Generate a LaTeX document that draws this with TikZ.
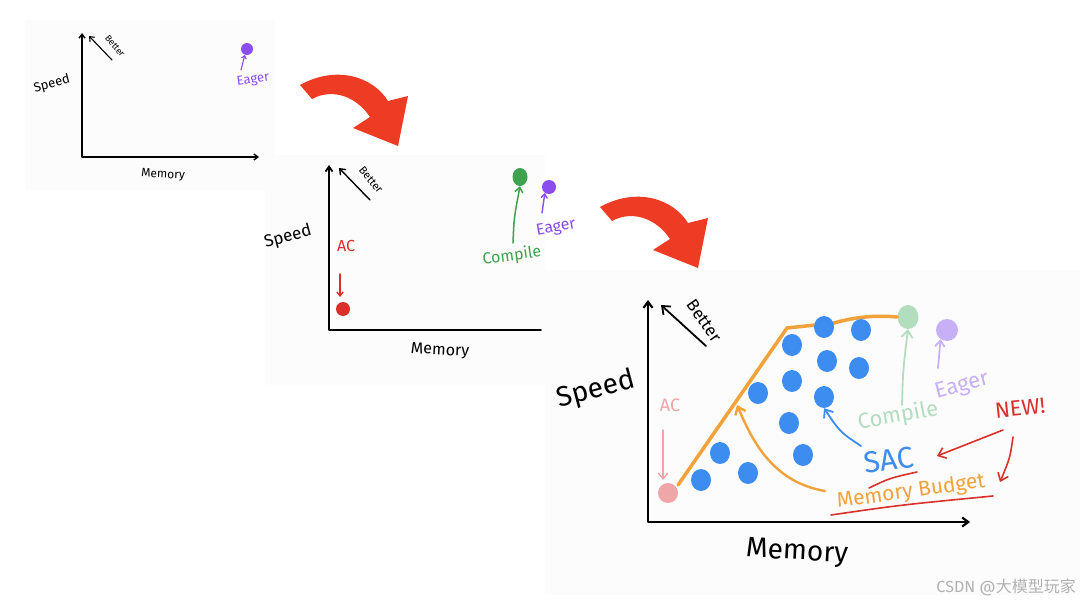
\documentclass[tikz,border=0pt]{standalone}
\usepackage{fontspec}
\setmainfont{Fira Sans}
\newfontfamily\cjkfont{Noto Sans CJK SC}
\usetikzlibrary{arrows.meta,shapes.geometric}
\definecolor{cPurple}{HTML}{8B4CF0}
\definecolor{cRed}{HTML}{D9302A}
\definecolor{cGreen}{HTML}{3FA24E}
\definecolor{cPink}{HTML}{EEA6A6}
\definecolor{cPaleGreen}{HTML}{B3DEBD}
\definecolor{cPalePurple}{HTML}{C8B0F6}
\definecolor{cBlue}{HTML}{3D8DF0}
\definecolor{cOrange}{HTML}{F2A23A}
\definecolor{cBigRed}{HTML}{EE3B24}
\definecolor{cPanel}{HTML}{FCFCFC}
\begin{document}
\begin{tikzpicture}[x=1pt,y=-1pt,
  lbl/.style={inner sep=0pt, font=\fontsize{#1}{#1}\selectfont},
  lbl/.default=12,
  dot/.style={circle, inner sep=0pt, minimum size=#1},
  dot/.default=12,
  axis/.style={line width=#1, black, line cap=round, line join=round},
  axis/.default=1.4,
  tip/.style={-{Straight Barb[length=#1, width=1.6*#1]}},
  tip/.default=4pt,
  bigarrow/.style={fill=cBigRed, draw=none}
]
\useasboundingbox (0,0) rectangle (1080,605);
\fill[white] (0,0) rectangle (1080,605);
% faint panel backgrounds
\fill[cPanel] (25,20) rectangle (275,190);
\fill[cPanel] (265,155) rectangle (545,385);
\fill[cPanel] (545,270) rectangle (1080,595);

% ================= Panel 1 =================
\coordinate (o1) at (82,157);
\coordinate (y1) at (82,33);
\coordinate (x1) at (259,157);
\draw[axis, {Straight Barb[length=4pt,width=6pt]}-{Straight Barb[length=4pt,width=6pt]}] (y1) -- (o1) -- (x1);
\coordinate (b1s) at (112,60);
\coordinate (b1e) at (89,36);
\draw[axis=1.1, tip=4pt] (b1s) -- (b1e);
\node[lbl=9, rotate=-50] (bet1) at (115,46) {Better};
\node[lbl=13, rotate=15] (sp1) at (52,84) {Speed};
\node[lbl=12, rotate=-3] (mem1) at (163,175) {Memory};
\node[dot=12, fill=cPurple] (e1) at (247,49) {};
\node[lbl=13, text=cPurple, rotate=8] (eag1) at (253,80) {Eager};
\coordinate (ea1) at (241,70);
\draw[axis=1.1, draw=cPurple, tip=3pt] (ea1) -- (e1.250);

% big arrow 1
\fill[bigarrow] (300,85) .. controls (338,64) and (374,78) .. (388,101)
  -- (408,96) -- (398,146) -- (353,128) -- (370,117)
  .. controls (356,96) and (332,88) .. (312,99) -- cycle;

% ================= Panel 2 =================
\coordinate (o2) at (329,330);
\coordinate (y2) at (329,165);
\coordinate (x2) at (541,330);
\draw[axis=1.8, {Straight Barb[length=5pt,width=7pt]}-] (y2) -- (o2) -- (x2);
\coordinate (b2s) at (370,200);
\coordinate (b2e) at (339,168);
\draw[axis=1.4, tip=5pt] (b2s) -- (b2e);
\node[lbl=11, rotate=-50] (bet2) at (371,180) {Better};
\node[lbl=17, rotate=15] (sp2) at (288,237) {Speed};
\node[lbl=16, rotate=-3] (mem2) at (440,351) {Memory};
\node[lbl=16, text=cRed] (ac2) at (346,246) {AC};
\node[dot=14, fill=cRed] (r2) at (343,309) {};
\coordinate (ac2a) at (340,274);
\coordinate (ac2b) at (340,297);
\draw[axis=1.4, draw=cRed, tip=4pt] (ac2a) -- (ac2b);
\node[ellipse, inner sep=0pt, minimum width=15pt, minimum height=18pt, fill=cGreen] (g2) at (520,177) {};
\node[lbl=16, text=cGreen, rotate=8] (cmp2) at (512,256) {Compile};
\coordinate (cmp2a) at (513,243);
\draw[axis=1.5, draw=cGreen, tip=5pt] (cmp2a) .. controls (514,218) .. (g2.south);
\node[dot=14, fill=cPurple] (e2) at (549,187) {};
\node[lbl=16, text=cPurple, rotate=10] (eag2) at (556,228) {Eager};
\coordinate (ea2) at (542,213);
\draw[axis=1.4, draw=cPurple, tip=4pt] (ea2) -- (e2.235);

% big arrow 2
\begin{scope}[shift={(300,122)}]
\fill[bigarrow] (300,85) .. controls (338,64) and (374,78) .. (388,101)
  -- (408,96) -- (398,146) -- (353,128) -- (370,117)
  .. controls (356,96) and (332,88) .. (312,99) -- cycle;
\end{scope}

% ================= Panel 3 =================
\coordinate (o3) at (648,522);
\coordinate (y3) at (648,300);
\coordinate (x3) at (970,522);
\draw[axis=2.2, {Straight Barb[length=6pt,width=9pt]}-{Straight Barb[length=6pt,width=9pt]}] (y3) -- (o3) -- (x3);
\coordinate (b3s) at (706,346);
\coordinate (b3e) at (661,305);
\draw[axis=1.8, tip=7pt] (b3s) -- (b3e);
\node[lbl=17, rotate=-55] (bet3) at (704,321) {Better};
\node[lbl=28, rotate=15] (sp3) at (596,390) {Speed};
\node[lbl=28, rotate=-3] (mem3) at (797,553) {Memory};
\node[lbl=18, text=cPink] (ac3) at (670,405) {AC};
\node[dot=20, fill=cPink] (p3) at (668,493) {};
\coordinate (ac3a) at (663,430);
\coordinate (ac3b) at (663,480);
\draw[axis=1.4, draw=cPink, tip=6pt] (ac3a) -- (ac3b);

% frontier line
\node[ellipse, inner sep=0pt, minimum width=21pt, minimum height=24pt, fill=cPaleGreen] (g3) at (908,317) {};
\node[dot=22, fill=cPalePurple] (e3) at (947,330) {};
\coordinate (f1) at (678,485);
\coordinate (f2) at (787,328);
\coordinate (f3) at (834,323);
\draw[line width=3.5pt, cOrange, line cap=round, line join=round]
  (f1) -- (f2) -- (f3) .. controls (855,317) and (875,315) .. (g3.west);

% blue dots
\foreach \i/\px/\py in {1/701/480, 2/720/453, 3/748/473, 4/758/393, 5/792/345,
  6/792/381, 7/789/423, 8/803/455, 9/824/327, 10/827/361, 11/824/397, 12/861/330, 13/859/368}
  \node[ellipse, inner sep=0pt, minimum width=20pt, minimum height=22pt, fill=cBlue] (bd\i) at (\px,\py) {};

\node[lbl=22, text=cPalePurple, rotate=15] (eag3) at (962,386) {Eager};
\coordinate (ea3) at (938,368);
\draw[axis=1.8, draw=cPalePurple, tip=6pt] (ea3) -- (e3.235);
\node[lbl=22, text=cPaleGreen, rotate=10] (cmp3) at (898,416) {Compile};
\coordinate (cmp3a) at (902,405);
\draw[axis=1.8, draw=cPaleGreen, tip=7pt] (cmp3a) .. controls (903,370) .. (g3.south);

\node[lbl=30, text=cBlue, rotate=8] (sac) at (889,460) {SAC};
\coordinate (sacA) at (861,446);
\draw[axis=1.8, draw=cBlue, tip=7pt] (sacA) .. controls (840,432) .. (bd11.south);
\draw[axis=1.6, draw=cRed] (869,488) .. controls (890,478) .. (917,472);

\node[lbl=22, text=cRed, rotate=6] (new) at (1020,408) {NEW!};
\coordinate (n1) at (1003,430);
\coordinate (n1e) at (937,456);
\coordinate (n2) at (1013,437);
\coordinate (n2e) at (1000,482);
\draw[axis=1.6, draw=cRed, tip=7pt] (n1) -- (n1e);
\draw[axis=1.6, draw=cRed, tip=7pt] (n2) .. controls (1010,458) .. (n2e);

\node[lbl=21, text=cOrange, rotate=8] (mb) at (911,492) {Memory Budget};
\draw[axis=1.6, draw=cRed] (831,515) .. controls (900,505) .. (993,496);
\coordinate (mbA) at (825,491);
\coordinate (fr) at (737,405);
\draw[axis=2.4, draw=cOrange, tip=7pt] (mbA) .. controls (772,482) and (752,440) .. (fr);

% watermark
\node[lbl=16, text=black!30, anchor=east] (wm) at (1076,587) {CSDN @{\cjkfont 大模型玩家}};
\end{tikzpicture}
\end{document}
